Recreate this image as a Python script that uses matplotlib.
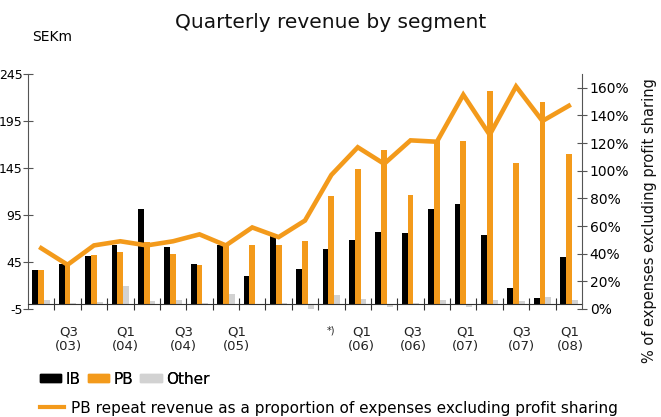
import numpy as np
import matplotlib
matplotlib.use("Agg")
import matplotlib.pyplot as plt
from matplotlib import font_manager
from matplotlib.patches import Patch
from matplotlib.lines import Line2D

plt.rcParams["axes.unicode_minus"] = False

# quarters Q2-03 .. Q1-08 (one extra restated quarter marked *))
ib = [36, 43, 51, 63, 101, 61, 43, 63, 30, 73, 38,
      59, 68, 77, 76, 101, 107, 74, 17, 7, 50]
pb = [37, 43, 52, 56, 66, 54, 42, 64, 63, 63, 67,
      115, 144, 164, 116, 175, 174, 227, 150, 215, 160]
other = [5, 1, 2, 19, 4, 5, 1, 11, 0, 1, -6,
         10, 6, -3, 1, 5, -3, 5, 4, 8, 5]
repeat_pct = [44, 32, 46, 49, 46, 49, 54, 46, 59, 52, 64,
              97, 117, 105, 122, 121, 155, 126, 161, 136, 147]

tick_labels = ["Q3\n(03)", "Q1\n(04)", "Q3\n(04)", "Q1\n(05)", "Q3\n(05)", "*)",
               "Q1\n(06)", "Q3\n(06)", "Q1\n(07)", "Q3\n(07)", "Q1\n(08)"]
label_pos = [1.05, 3.2, 5.4, 7.4, 9.5, 11.0, 12.15, 14.1, 16.1, 18.2, 20.05]

orange = "#F39A1B"
grey = "#D2D2D2"

names = {f.name for f in font_manager.fontManager.ttflist}
narrow = "Liberation Sans Narrow" if "Liberation Sans Narrow" in names else "DejaVu Sans"
is_narrow = narrow != "DejaVu Sans"

x = np.arange(len(ib))
w = 0.22

fig = plt.figure(figsize=(6.61, 4.17), dpi=100)
ax = fig.add_axes([28 / 661, 1 - 309 / 417, (582 - 28) / 661, (309 - 74) / 417])

ax.bar(x - w, ib, w, color="black", zorder=2)
ax.bar(x, pb, w, color=orange, zorder=2)
ax.bar(x + w, other, w, color=grey, zorder=2)

ax.set_xlim(-0.5, len(ib) - 0.5)
ax.set_ylim(-5, 245)
ax.set_yticks([-5, 45, 95, 145, 195, 245])
ax.tick_params(axis="y", direction="inout", length=7, labelsize=9, pad=0.5, color="#555555")

for s in ["top", "right"]:
    ax.spines[s].set_visible(False)
ax.spines["left"].set_color("#555555")
ax.spines["bottom"].set_position(("data", 0))
ax.spines["bottom"].set_color("#333333")

ax.set_xticks(np.arange(0.5, len(ib) - 1, 1.0))
ax.set_xticklabels([])
ax.set_xticks(label_pos, minor=True)
ax.set_xticklabels(tick_labels, minor=True, fontsize=11 if is_narrow else 9.5,
                   family=narrow, color="#222222")
ax.tick_params(axis="x", which="major", direction="inout", length=8, color="#333333")
ax.tick_params(axis="x", which="minor", length=0, pad=15)
for t in ax.get_xticklabels(minor=True):
    if t.get_text() == "*)":
        t.set_fontsize(7)

ax2 = ax.twinx()
ax2.plot(x, repeat_pct, color=orange, lw=3.3, solid_joinstyle="miter", zorder=5)
ax2.set_ylim(0, 170)
ax2.set_yticks(range(0, 161, 20))
ax2.set_yticklabels([f"{v}%" for v in range(0, 161, 20)])
ax2.tick_params(axis="y", direction="inout", length=7, labelsize=10, pad=2, color="#555555")
for s in ["top", "left", "bottom"]:
    ax2.spines[s].set_visible(False)
ax2.spines["right"].set_color("#555555")

fig.text(0.983, 0.47, "% of expenses excluding profit sharing", rotation=90,
         ha="center", va="center", fontsize=10.5, color="#111111")

fig.text(0.5, 0.945, "Quarterly revenue by segment", ha="center", va="center",
         fontsize=18 if is_narrow else 14.5, family=narrow, color="#111111")
fig.text(32 / 661, 1 - 37 / 417, "SEKm", ha="left", va="center", fontsize=10)

lg_size = 13 if is_narrow else 11
h1 = [Patch(color="black"), Patch(color=orange), Patch(color=grey)]
leg1 = fig.legend(h1, ["IB", "PB", "Other"], ncol=3, loc="center left",
                  bbox_to_anchor=(40 / 661, 1 - 379 / 417), frameon=False,
                  borderpad=0, borderaxespad=0, handlelength=1.4, handleheight=0.45,
                  handletextpad=0.25, columnspacing=0.5,
                  prop={"family": narrow, "size": lg_size})
h2 = [Line2D([], [], color=orange, lw=3)]
leg2 = fig.legend(h2, ["PB repeat revenue as a proportion of expenses excluding profit sharing"],
                  loc="center left", bbox_to_anchor=(40 / 661, 1 - 408 / 417),
                  frameon=False, borderpad=0, borderaxespad=0, handlelength=1.6,
                  handletextpad=0.4, prop={"family": narrow, "size": lg_size})
fig.add_artist(leg1)

fig.savefig("out.png", dpi=100)
